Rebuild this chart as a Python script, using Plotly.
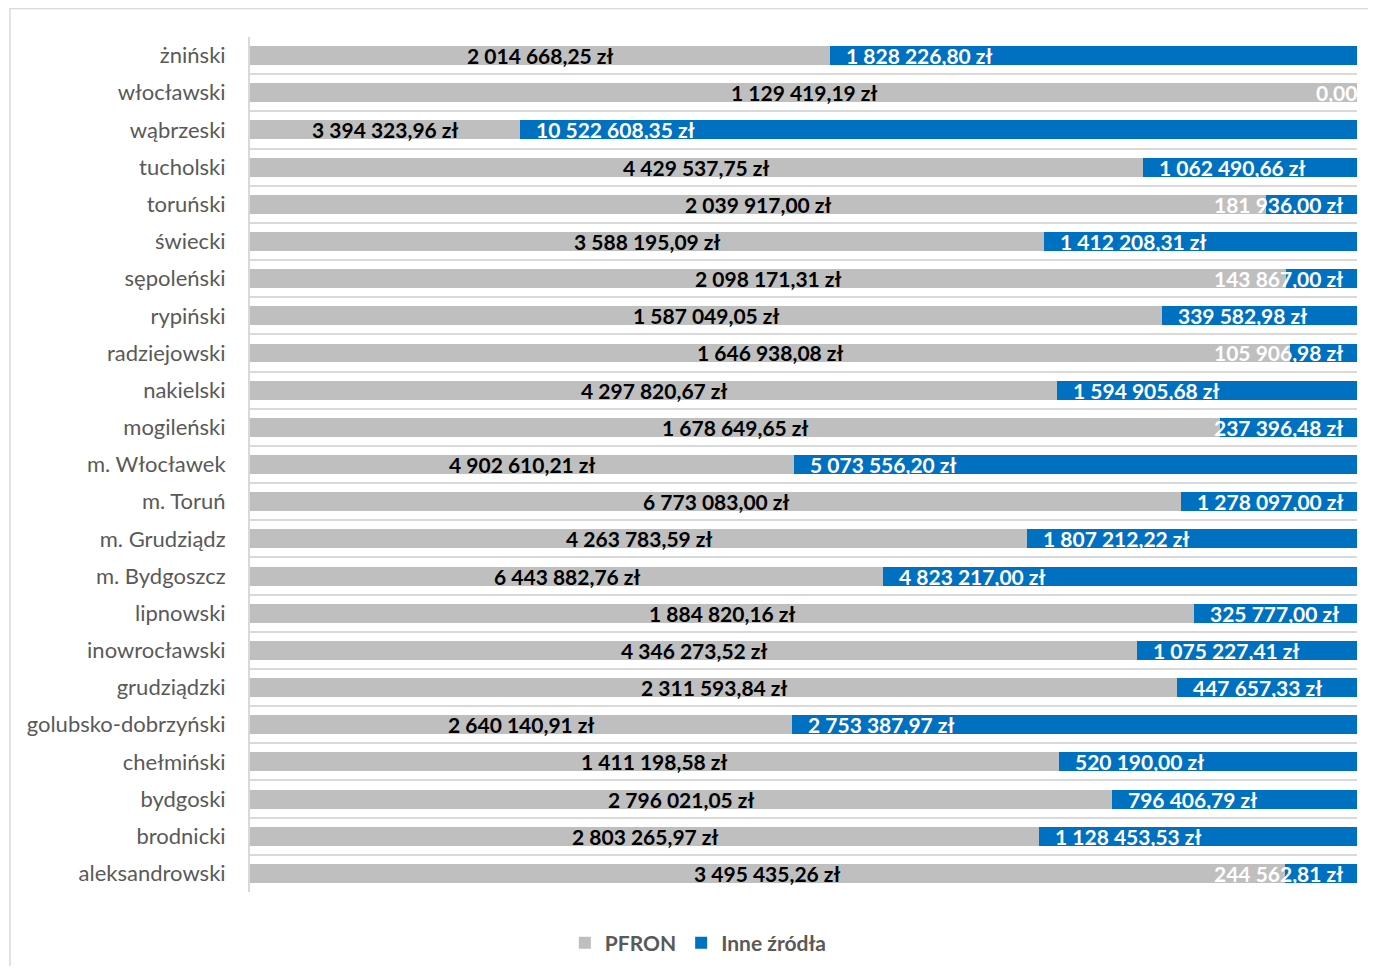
import plotly.graph_objects as go

categories = ["żniński", "włocławski", "wąbrzeski", "tucholski", "toruński", "świecki",
              "sępoleński", "rypiński", "radziejowski", "nakielski", "mogileński",
              "m. Włocławek", "m. Toruń", "m. Grudziądz", "m. Bydgoszcz", "lipnowski",
              "inowrocławski", "grudziądzki", "golubsko-dobrzyński", "chełmiński",
              "bydgoski", "brodnicki", "aleksandrowski"]
pfron = [2014668.25, 1129419.19, 3394323.96, 4429537.75, 2039917.00, 3588195.09,
         2098171.31, 1587049.05, 1646938.08, 4297820.67, 1678649.65,
         4902610.21, 6773083.00, 4263783.59, 6443882.76, 1884820.16,
         4346273.52, 2311593.84, 2640140.91, 1411198.58,
         2796021.05, 2803265.97, 3495435.26]
inne = [1828226.80, 0.00, 10522608.35, 1062490.66, 181936.00, 1412208.31,
        143867.00, 339582.98, 105906.98, 1594905.68, 237396.48,
        5073556.20, 1278097.00, 1807212.22, 4823217.00, 325777.00,
        1075227.41, 447657.33, 2753387.97, 520190.00,
        796406.79, 1128453.53, 244562.81]
series_names = ["PFRON", "Inne źródła"]
colors = ["#bfbfbf", "#0070c0"]

def fmt(v):
    if v == 0:
        return "0,00"
    s = f"{v:,.2f}".replace(",", " ").replace(".", ",")
    return s + " zł"

FIG_W, FIG_H = 1360, 958
ML, MR, MT, MB = 242, 11, 29, 74
PLOT_W = FIG_W - ML - MR
PLOT_H = FIG_H - MT - MB
FONT = "Lato"
LBL_SIZE = 21

fig = go.Figure()
fig.add_trace(go.Bar(y=categories, x=pfron, name=series_names[0], orientation="h",
                     marker=dict(color=colors[0], line=dict(width=0)), hoverinfo="skip"))
fig.add_trace(go.Bar(y=categories, x=inne, name=series_names[1], orientation="h",
                     marker=dict(color=colors[1], line=dict(width=0)), hoverinfo="skip"))

annotations = []
for c, a, b in zip(categories, pfron, inne):
    tot = a + b
    pa = a / tot * 100
    annotations.append(dict(x=pa / 2, y=c, xref="x", yref="y", text=fmt(a),
                            showarrow=False, xanchor="center",
                            font=dict(family=FONT, size=LBL_SIZE, color="#000000", weight="bold")))
    txt = fmt(b)
    est_w = len(txt) * 10.2
    seg_px = (100 - pa) / 100 * PLOT_W
    if b == 0:
        annotations.append(dict(x=100, y=c, xref="x", yref="y", text=txt, showarrow=False,
                                xanchor="right", xshift=2,
                                font=dict(family=FONT, size=LBL_SIZE, color="#ffffff", weight="bold")))
    elif seg_px < est_w + 16 + 14:
        annotations.append(dict(x=100, y=c, xref="x", yref="y", text=txt, showarrow=False,
                                xanchor="right", xshift=-12,
                                font=dict(family=FONT, size=LBL_SIZE, color="#ffffff", weight="bold")))
    else:
        annotations.append(dict(x=pa, y=c, xref="x", yref="y", text=txt, showarrow=False,
                                xanchor="left", xshift=14,
                                font=dict(family=FONT, size=LBL_SIZE, color="#ffffff", weight="bold")))

fig.update_layout(
    width=FIG_W, height=FIG_H,
    margin=dict(l=ML, r=MR, t=MT, b=MB, pad=0, autoexpand=False),
    barmode="stack", barnorm="percent", bargap=0.49,
    paper_bgcolor="white", plot_bgcolor="white",
    font=dict(family=FONT, color="#595959"),
    xaxis=dict(range=[0, 100], visible=False, fixedrange=True),
    yaxis=dict(autorange="reversed", tickson="boundaries", showgrid=True,
               gridcolor="#d9d9d9", gridwidth=1.5, showline=True, linecolor="#d9d9d9",
               linewidth=2, ticks="", ticklabelstandoff=18,
               tickfont=dict(family=FONT, size=22, color="#595959")),
    legend=dict(orientation="h", x=0.405, xanchor="center",
                y=-(935 - (FIG_H - MB)) / PLOT_H, yanchor="middle",
                font=dict(family=FONT, size=21, color="#595959", weight="bold"),
                itemwidth=30, traceorder="normal"),
    annotations=annotations,
    shapes=[dict(type="rect", xref="paper", yref="paper",
                 x0=(2 - ML) / PLOT_W, x1=1.2,
                 y0=-0.3, y1=(FIG_H - MB - 0.5) / PLOT_H,
                 line=dict(color="#d9d9d9", width=1.5), layer="below")],
)
fig.write_html("out.html")
